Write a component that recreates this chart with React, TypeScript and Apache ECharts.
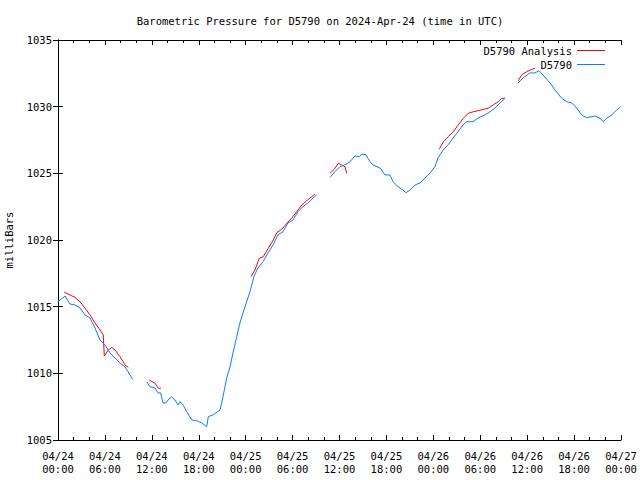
import React, { useEffect, useRef } from "react";
import * as echarts from "echarts";

const title = "Barometric Pressure for D5790 on 2024-Apr-24 (time in UTC)";
const xTickLabels = [
  "04/24\n00:00", "04/24\n06:00", "04/24\n12:00", "04/24\n18:00",
  "04/25\n00:00", "04/25\n06:00", "04/25\n12:00", "04/25\n18:00",
  "04/26\n00:00", "04/26\n06:00", "04/26\n12:00", "04/26\n18:00",
  "04/27\n00:00",
];

// hours since 2024-04-24 00:00 UTC; null breaks the line
const stationHours = [
  0, 0.9, 1.53, 2.17, 2.81, 3.45, 4.09, 4.73, 5.37, 6.01, 6.65, 7.29, 7.93, 8.57, 9.21, 9.55,
  10.4,
  11.34, 11.77, 12.41, 12.79, 13.13, 13.43, 13.81, 14.07, 14.54, 14.96, 15.35, 15.6, 15.99, 16.46,
  17.1, 17.74, 18.38, 19.02, 19.22, 19.82, 20.72, 21.1, 21.57, 22.0, 22.38, 22.85, 23.27, 23.66,
  24.13, 24.55, 24.94, 25.07, 25.58, 26.22, 26.86, 27.5, 28.13, 28.77, 29.41, 30.05, 30.69, 31.33,
  31.97, 32.61, 33.08,
  34.0,
  34.79, 35.43, 36.06, 36.7, 37.34, 37.98, 38.53, 38.84, 39.39, 39.9, 40.28, 41.18, 41.82, 42.46,
  42.84, 43.48, 44.12, 44.5, 45.02, 45.66, 46.3, 46.93, 47.57, 48.21, 48.6, 49.24, 49.88, 50.51,
  51.15, 51.79, 52.27, 53.07, 53.71, 54.61, 55.25, 55.89, 56.53, 57.17,
  58.0,
  58.83, 59.47, 60.36, 61.0, 61.51, 62.03, 62.92, 63.56, 64.42, 65.06, 65.7, 66.33, 66.97, 67.61,
  68.68, 69.32, 69.7, 70.17, 70.81, 71.45, 71.96,
];
const stationPressure = [
  1015.37, 1015.8, 1015.2, 1015.13, 1014.9, 1014.38, 1014.15, 1013.4, 1012.5, 1012.13, 1011.53,
  1011.15, 1010.78, 1010.48, 1009.88, 1009.55,
  null,
  1009.37, 1009.0, 1008.9, 1008.53, 1008.53, 1007.78, 1007.78, 1008.0, 1008.23, 1008.0, 1007.63,
  1007.87, 1007.63, 1007.12, 1006.5, 1006.45, 1006.28, 1006.0, 1006.75, 1006.88, 1007.25, 1008.25,
  1009.63, 1010.5, 1011.53, 1012.75, 1013.78, 1014.53, 1015.37, 1016.12, 1017.0, 1017.3, 1017.9,
  1018.37, 1019.03, 1019.63, 1020.38, 1020.62, 1021.28, 1021.5, 1022.12, 1022.5, 1022.78, 1023.15,
  1023.38,
  null,
  1024.7, 1025.12, 1025.5, 1025.63, 1025.87, 1026.3, 1026.25, 1026.45, 1026.38, 1025.87, 1025.63,
  1025.4, 1024.88, 1024.88, 1024.37, 1024.0, 1023.75, 1023.55, 1023.75, 1024.13, 1024.28, 1024.65,
  1025.03, 1025.5, 1026.15, 1026.75, 1027.13, 1027.65, 1028.12, 1028.63, 1028.87, 1028.87, 1029.15,
  1029.38, 1029.62, 1029.9, 1030.28, 1030.63,
  null,
  1031.78, 1032.15, 1032.53, 1032.53, 1032.7, 1032.38, 1031.78, 1031.25, 1030.63, 1030.37, 1030.28,
  1029.9, 1029.38, 1029.17, 1029.3, 1029.13, 1028.87, 1029.13, 1029.38, 1029.75, 1030.0,
];

const analysisHours = [
  0.81, 1.53, 2.17, 2.81, 3.45, 4.09, 4.73, 5.37, 5.79, 5.92, 6.43, 6.87, 7.29, 7.93, 8.57, 8.99,
  10.0,
  11.68, 12.41, 12.83, 13.17,
  20.0,
  24.68, 24.77, 25.19, 25.74, 26.25, 26.89, 27.53, 27.97, 28.61, 29.25, 29.89, 30.53, 31.17, 31.81,
  32.45, 32.87,
  34.0,
  34.79, 35.43, 35.85, 36.28, 36.7, 36.92,
  45.0,
  48.76, 49.27, 49.91, 50.55, 51.19, 51.83, 52.47, 53.11, 53.75, 54.39, 55.03, 55.67, 56.31, 56.74,
  57.17,
  58.0,
  58.87, 59.3, 59.94, 60.58, 61.0,
];
const analysisPressure = [
  1016.08, 1015.88, 1015.7, 1015.37, 1014.9, 1014.38, 1013.78, 1013.25, 1012.88, 1011.3, 1011.75,
  1011.95, 1011.75, 1011.25, 1010.63, 1010.45,
  null,
  1009.5, 1009.25, 1008.88, 1008.88,
  null,
  1017.25, 1017.25, 1017.75, 1018.63, 1018.75, 1019.38, 1020.0, 1020.55, 1020.8, 1021.25, 1021.63,
  1022.12, 1022.63, 1022.95, 1023.25, 1023.45,
  null,
  1025.0, 1025.38, 1025.75, 1025.63, 1025.5, 1025.0,
  null,
  1026.8, 1027.37, 1027.75, 1028.12, 1028.63, 1029.13, 1029.5, 1029.62, 1029.7, 1029.8, 1029.88,
  1030.13, 1030.37, 1030.63, 1030.63,
  null,
  1031.95, 1032.38, 1032.62, 1032.8, 1032.88,
];

const FONT = "'DejaVu Sans Mono', 'Liberation Mono', monospace";
const RED = "#ff0000";
const BLUE = "#0a7cff";

export default function App() {
  const ref = useRef<HTMLDivElement>(null);
  useEffect(() => {
    if (!ref.current) return;
    const chart = echarts.init(ref.current, null, { renderer: "svg" });
    const pair = (xs: number[], ys: (number | null)[]) => xs.map((x, i) => [x, ys[i]]);
    const xBase = {
      type: "value" as const,
      min: 0,
      max: 72,
      interval: 6,
      splitLine: { show: false },
      axisLine: { show: true, lineStyle: { color: "#000", width: 1 } },
      axisTick: { show: true, inside: true, length: 5, lineStyle: { color: "#000" } },
      minorTick: { show: true, splitNumber: 3, length: 3, lineStyle: { color: "#000" } },
      minorSplitLine: { show: false },
    };
    const yBase = {
      type: "value" as const,
      min: 1005,
      max: 1035,
      interval: 5,
      splitLine: { show: false },
      axisLine: { show: true, lineStyle: { color: "#000", width: 1 } },
      axisTick: { show: true, inside: true, length: 5, lineStyle: { color: "#000" } },
    };
    chart.setOption({
      animation: false,
      backgroundColor: "#fff",
      title: {
        text: title,
        left: "center",
        top: 10,
        textStyle: { fontFamily: FONT, fontSize: 10.5, fontWeight: "normal", color: "#000" },
      },
      legend: [
        {
          data: ["D5790 Analysis"],
          right: 30,
          top: 40,
          align: "right",
          icon: "rect",
          itemWidth: 28,
          itemHeight: 1,
          textStyle: { fontFamily: FONT, fontSize: 10.5, color: "#000" },
        },
        {
          data: ["D5790"],
          right: 30,
          top: 54,
          align: "right",
          icon: "rect",
          itemWidth: 28,
          itemHeight: 1,
          textStyle: { fontFamily: FONT, fontSize: 10.5, color: "#000" },
        },
      ],
      grid: { left: 58, right: 19, top: 40, bottom: 40, containLabel: false, outerBoundsMode: "none" },
      xAxis: [
        {
          ...xBase,
          position: "bottom",
          axisLabel: {
            fontFamily: FONT,
            fontSize: 10.5,
            color: "#000",
            margin: 9,
            lineHeight: 13,
            formatter: (v: number) => xTickLabels[Math.round(v / 6)] ?? "",
          },
        },
        { ...xBase, position: "top", axisLabel: { show: false } },
      ],
      yAxis: [
        {
          ...yBase,
          position: "left",
          name: "milliBars",
          nameLocation: "middle",
          nameRotate: 90,
          nameGap: 44,
          nameTextStyle: { fontFamily: FONT, fontSize: 10.5, color: "#000" },
          axisLabel: {
            fontFamily: FONT,
            fontSize: 10.5,
            color: "#000",
            margin: 6,
            formatter: (v: number) => String(v),
          },
        },
        { ...yBase, position: "right", axisLabel: { show: false } },
      ],
      series: [
        {
          name: "D5790 Analysis",
          type: "line",
          xAxisIndex: 0,
          yAxisIndex: 0,
          data: pair(analysisHours, analysisPressure),
          showSymbol: false,
          symbol: "none",
          connectNulls: false,
          color: RED,
          lineStyle: { color: RED, width: 1 },
        },
        {
          name: "D5790",
          type: "line",
          xAxisIndex: 0,
          yAxisIndex: 0,
          data: pair(stationHours, stationPressure),
          showSymbol: false,
          symbol: "none",
          connectNulls: false,
          color: BLUE,
          lineStyle: { color: BLUE, width: 1 },
        },
      ],
    });
    return () => chart.dispose();
  }, []);
  return <div ref={ref} style={{ width: 640, height: 480, position: "absolute", left: 0, top: 0 }} />;
}
